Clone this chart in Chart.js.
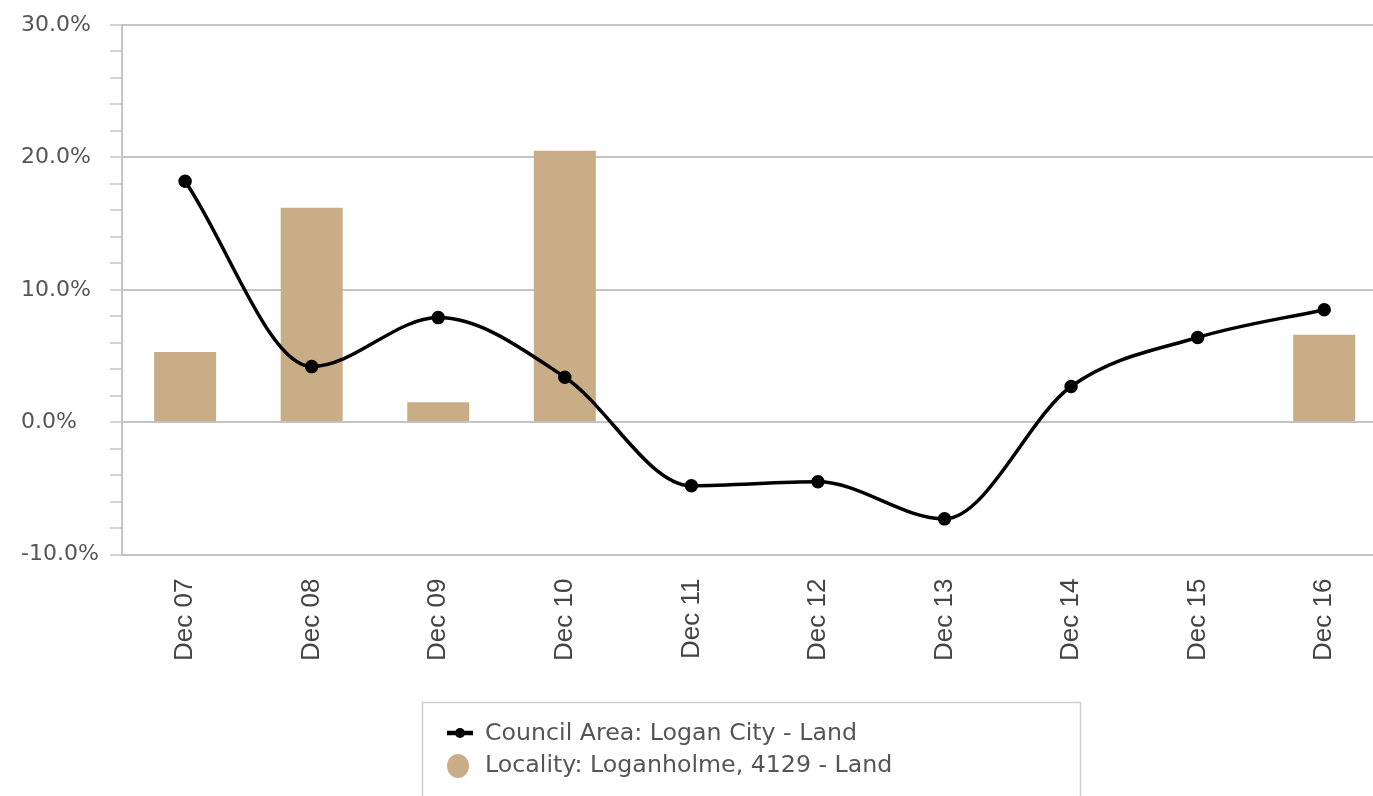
<!DOCTYPE html>
<html>
<head>
<meta charset="utf-8">
<script src="https://cdn.jsdelivr.net/npm/chart.js@4.4.1/dist/chart.umd.min.js"></script>
<style>
  html, body { margin: 0; padding: 0; background: #fff; overflow: hidden; }
  #wrap { width: 1396px; height: 796px; }
</style>
</head>
<body>
<div id="wrap"><canvas id="chart" width="1396" height="796"></canvas></div>
<script>
// Data (percent change)
const categories = ['Dec 07', 'Dec 08', 'Dec 09', 'Dec 10', 'Dec 11', 'Dec 12', 'Dec 13', 'Dec 14', 'Dec 15', 'Dec 16'];
const councilValues = [18.2, 4.2, 7.9, 3.4, -4.8, -4.5, -7.3, 2.7, 6.4, 8.5];
const localityValues = [5.3, 16.2, 1.5, 20.5, null, null, null, null, null, 6.6];
const seriesLabels = ['Council Area: Logan City - Land', 'Locality: Loganholme, 4129 - Land'];
const yMin = -10;
const yMax = 30;

const barColor = '#C8AD86';
const gridColor = '#c4c4c4';

// Boxed legend under the chart, like the original
const boxLegend = {
  id: 'boxLegend',
  afterDraw(chart) {
    const ctx = chart.ctx;
    const left = 422, top = 702, w = 658, h = 120;
    ctx.save();
    ctx.strokeStyle = '#cfcfcf';
    ctx.lineWidth = 1.5;
    ctx.strokeRect(left + 0.5, top + 0.5, w, h);

    // line series marker
    ctx.strokeStyle = '#000';
    ctx.lineWidth = 4.5;
    ctx.beginPath();
    ctx.moveTo(447, 733);
    ctx.lineTo(473, 733);
    ctx.stroke();
    ctx.fillStyle = '#000';
    ctx.beginPath();
    ctx.arc(460, 733, 5, 0, Math.PI * 2);
    ctx.fill();

    // bar series marker
    ctx.fillStyle = barColor;
    ctx.beginPath();
    ctx.ellipse(458, 766, 11, 12, 0, 0, Math.PI * 2);
    ctx.fill();

    ctx.fillStyle = '#555';
    ctx.font = '23.7px "DejaVu Sans"';
    ctx.textBaseline = 'middle';
    ctx.fillText(chart.data.datasets[0].label, 485, 734);
    ctx.fillText(chart.data.datasets[1].label, 485, 766);
    ctx.restore();
  }
};

new Chart(document.getElementById('chart'), {
  data: {
    labels: categories,
    datasets: [
      {
        type: 'line',
        label: seriesLabels[0],
        data: councilValues,
        borderColor: '#000',
        backgroundColor: '#000',
        borderWidth: 3.5,
        pointRadius: 5,
        pointBackgroundColor: '#000',
        cubicInterpolationMode: 'monotone',
        order: 0
      },
      {
        type: 'bar',
        label: seriesLabels[1],
        data: localityValues,
        backgroundColor: barColor,
        categoryPercentage: 1,
        barPercentage: 0.49,
        order: 1
      }
    ]
  },
  options: {
    responsive: false,
    animation: false,
    layout: { padding: { left: 21, top: 25, right: 0, bottom: 111 } },
    plugins: {
      legend: { display: false },
      tooltip: { enabled: false }
    },
    scales: {
      x: {
        grid: { display: false, drawTicks: false },
        border: { display: false },
        ticks: {
          maxRotation: 90,
          minRotation: 90,
          padding: 24,
          color: '#444',
          font: { family: '"Liberation Sans", Arial, sans-serif', size: 26 }
        }
      },
      y: {
        min: yMin,
        max: yMax,
        grid: {
          color: (c) => (c.tick && c.tick.value % 10 === 0 ? gridColor : 'rgba(0,0,0,0)'),
          lineWidth: 2,
          tickColor: gridColor,
          tickLength: 12,
          tickWidth: 1.5
        },
        border: { display: true, color: gridColor, width: 2 },
        ticks: {
          stepSize: 2,
          autoSkip: false,
          padding: 5.5,
          crossAlign: 'far',
          color: '#555',
          font: { family: '"DejaVu Sans", sans-serif', size: 22 },
          callback: (v) => (v % 10 === 0 ? v.toFixed(1) + '%' : '')
        }
      }
    }
  },
  plugins: [boxLegend]
});
</script>
</body>
</html>
